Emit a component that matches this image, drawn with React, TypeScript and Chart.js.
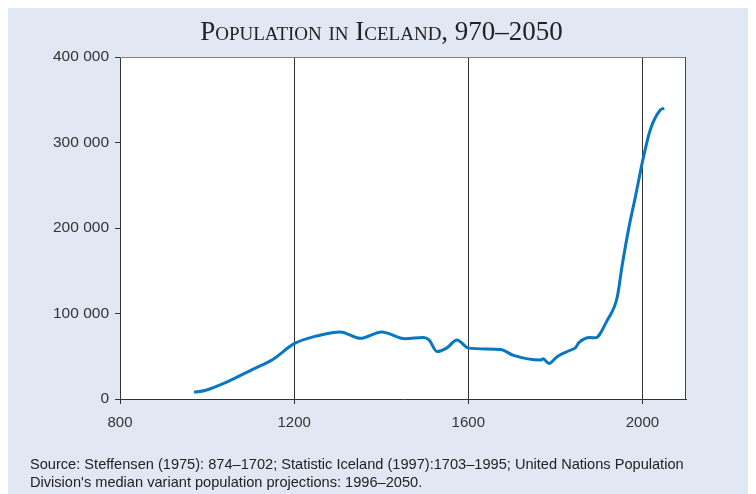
import React, { useEffect, useRef } from "react";
import { Chart, registerables } from "chart.js";

Chart.register(...registerables);

const titleText = "Population in Iceland, 970–2050";
const sourceLines = [
  "Source: Steffensen (1975): 874–1702; Statistic Iceland (1997):1703–1995; United Nations Population",
  "Division's median variant population projections: 1996–2050.",
];

const years = [
  970, 995, 1050, 1106, 1150, 1201, 1250, 1306, 1352, 1401, 1455, 1497, 1510, 1528, 1550, 1574,
  1601, 1674, 1704, 1766, 1772, 1785, 1804, 1834, 1846, 1854, 1880, 1892, 1919, 1942, 1953,
  1969, 1984, 2001, 2018, 2041, 2050,
];
const population = [
  8000, 10000, 21000, 35000, 46000, 65000, 73500, 78500, 71000, 78500, 70500, 72000, 69000,
  55500, 59500, 69000, 59500, 58000, 51000, 45500, 47000, 41500, 49500, 57000, 60000, 66000,
  72000, 71500, 92000, 119000, 155000, 201000, 237000, 280000, 315000, 338000, 340000,
];
const xTicks = [800, 1200, 1600, 2000];
const yTicks = [0, 100000, 200000, 300000, 400000];

const BG = "#e1e8f3";
const LINE = "#0877c1";
const AXIS = "#333333";

function fmt(v: number): string {
  if (v === 0) return "0";
  const thousands = Math.round(v / 1000);
  return `${thousands} 000`;
}

export default function App() {
  const ref = useRef<HTMLCanvasElement>(null);

  useEffect(() => {
    if (!ref.current) return;
    const plotFrame = {
      id: "plotFrame",
      beforeDraw(chart: any) {
        const { ctx, chartArea: a } = chart;
        ctx.save();
        ctx.fillStyle = "#ffffff";
        ctx.fillRect(a.left, a.top, a.right - a.left, a.bottom - a.top);
        ctx.restore();
      },
      beforeDatasetsDraw(chart: any) {
        const { ctx, chartArea: a } = chart;
        ctx.save();
        ctx.lineWidth = 1;
        ctx.strokeStyle = "#808080";
        ctx.beginPath();
        ctx.moveTo(a.left, a.top + 0.5);
        ctx.lineTo(a.right, a.top + 0.5);
        ctx.stroke();
        ctx.strokeStyle = "#444444";
        ctx.beginPath();
        ctx.moveTo(a.right - 0.5, a.top);
        ctx.lineTo(a.right - 0.5, a.bottom);
        ctx.stroke();
        ctx.restore();
      },
    };

    const chart = new Chart(ref.current, {
      type: "line",
      data: {
        datasets: [
          {
            data: years.map((y, i) => ({ x: y, y: population[i] })),
            borderColor: LINE,
            borderWidth: 3,
            pointRadius: 0,
            fill: false,
            cubicInterpolationMode: "monotone",
          },
        ],
      },
      options: {
        animation: false,
        responsive: true,
        maintainAspectRatio: false,
        layout: { padding: { top: 51, right: 69, left: 0, bottom: 0 } },
        plugins: { legend: { display: false }, tooltip: { enabled: false }, title: { display: false } },
        scales: {
          x: {
            type: "linear",
            min: 800,
            max: 2100,
            afterBuildTicks: (s: any) => {
              s.ticks = xTicks.map((v) => ({ value: v }));
            },
            afterFit: (s: any) => {
              s.height = 95;
            },
            grid: {
              color: AXIS,
              lineWidth: 1,
              drawOnChartArea: true,
              drawTicks: true,
              tickLength: 5,
            },
            border: { color: AXIS, width: 1 },
            ticks: {
              color: "#333",
              padding: 10,
              maxRotation: 0,
              font: { family: "'Liberation Sans', Arial, sans-serif", size: 15 },
              callback: (v: any) => String(v),
            },
          },
          y: {
            type: "linear",
            min: 0,
            max: 400000,
            afterBuildTicks: (s: any) => {
              s.ticks = yTicks.map((v) => ({ value: v }));
            },
            afterFit: (s: any) => {
              s.width = 112;
            },
            grid: {
              color: AXIS,
              drawOnChartArea: false,
              drawTicks: true,
              tickLength: 5,
            },
            border: { color: AXIS, width: 1 },
            ticks: {
              color: "#333",
              padding: 6,
              font: { family: "'Liberation Sans', Arial, sans-serif", size: 15.5 },
              callback: (v: any) => fmt(Number(v)),
            },
          },
        },
      },
      plugins: [plotFrame],
    } as any);
    return () => chart.destroy();
  }, []);

  return (
    <div
      style={{
        position: "relative",
        marginTop: -2,
        width: 747,
        height: 488,
        background: BG,
        overflow: "hidden",
      }}
    >
      <div style={{ position: "absolute", left: 0, top: 0, width: 747, height: 488 }}>
        <canvas ref={ref} />
      </div>
      <div
        style={{
          position: "absolute",
          left: 0,
          width: 747,
          top: 12,
          textAlign: "center",
          fontFamily: "'Liberation Serif', 'Times New Roman', serif",
          fontSize: 27,
          lineHeight: "27px",
          fontVariant: "small-caps",
          color: "#222",
          whiteSpace: "nowrap",
        }}
      >
        {titleText}
      </div>
      <div
        style={{
          position: "absolute",
          left: 22,
          top: 449,
          fontFamily: "'Liberation Sans', Arial, sans-serif",
          fontSize: 14.6,
          lineHeight: "18px",
          color: "#222",
          whiteSpace: "nowrap",
        }}
      >
        {sourceLines.map((l, i) => (
          <div key={i}>{l}</div>
        ))}
      </div>
    </div>
  );
}
